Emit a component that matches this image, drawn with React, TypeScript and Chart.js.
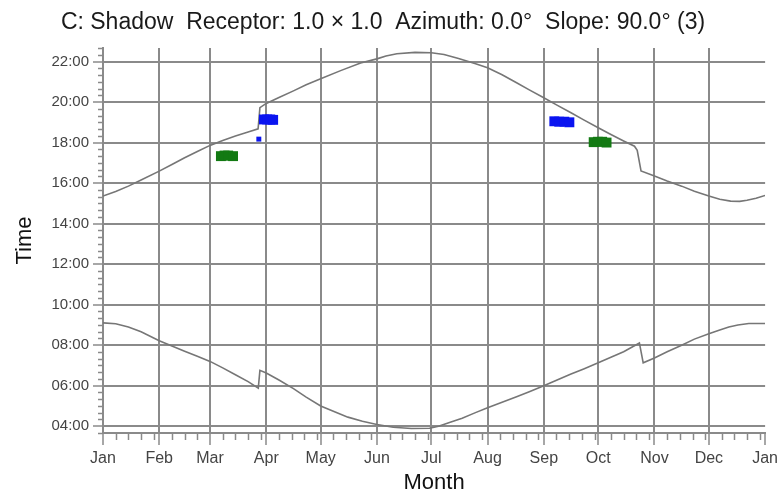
import React, { useEffect, useRef } from 'react';
import { Chart, registerables } from 'chart.js';

Chart.register(...registerables);

// ---------- data ----------
const monthTickDays = [0, 31, 59, 90, 120, 151, 181, 212, 243, 273, 304, 334, 365];
const monthTickLabels = ['Jan', 'Feb', 'Mar', 'Apr', 'May', 'Jun', 'Jul', 'Aug', 'Sep', 'Oct', 'Nov', 'Dec', 'Jan'];
const hourTickValues = [4, 6, 8, 10, 12, 14, 16, 18, 20, 22];
const hourTickLabels = ['04:00', '06:00', '08:00', '10:00', '12:00', '14:00', '16:00', '18:00', '20:00', '22:00'];

// sunset (upper curve), day of year -> hour
const sunsetDays = [0, 7, 14, 21, 31, 38, 45, 52, 59, 66, 73, 80, 85.5, 86.5, 90, 97, 105, 112, 120, 131, 142, 151, 156, 162, 172, 181, 188, 196, 205, 212, 220, 228, 235, 243, 250, 258, 265, 273, 280, 287, 293, 294.5, 296.6, 304, 311, 319, 326, 334, 340, 346, 351, 355, 360, 365];
const sunsetTimes = [15.36, 15.58, 15.85, 16.15, 16.59, 16.92, 17.25, 17.56, 17.86, 18.1, 18.32, 18.52, 18.68, 19.72, 19.93, 20.22, 20.55, 20.85, 21.15, 21.55, 21.93, 22.13, 22.27, 22.38, 22.45, 22.43, 22.35, 22.15, 21.9, 21.69, 21.35, 20.95, 20.6, 20.21, 19.86, 19.47, 19.12, 18.73, 18.4, 18.08, 17.82, 17.62, 16.6, 16.35, 16.1, 15.85, 15.6, 15.36, 15.2, 15.11, 15.1, 15.15, 15.25, 15.39];

// sunrise (lower curve)
const sunriseDays = [0, 7, 14, 21, 31, 38, 45, 52, 59, 66, 73, 80, 85.6, 86.5, 90, 97, 105, 112, 120, 128, 135, 143, 151, 160, 170, 180, 185, 191, 198, 205, 212, 220, 228, 235, 243, 250, 258, 265, 273, 280, 287, 295.7, 297.8, 304, 311, 319, 326, 334, 340, 345, 350, 356, 365];
const sunriseTimes = [9.1, 9.06, 8.9, 8.66, 8.22, 7.96, 7.7, 7.45, 7.2, 6.88, 6.54, 6.2, 5.88, 6.76, 6.63, 6.28, 5.86, 5.44, 5.0, 4.7, 4.45, 4.25, 4.09, 3.95, 3.89, 3.9, 4.0, 4.18, 4.4, 4.66, 4.91, 5.18, 5.45, 5.7, 6.0, 6.27, 6.58, 6.83, 7.13, 7.4, 7.68, 8.11, 7.13, 7.37, 7.68, 8.0, 8.3, 8.57, 8.75, 8.9, 9.0, 9.07, 9.07];

// shadow occurrences
const blueShadowDays = [88.7, 90.5, 92.2, 93.8, 248.8, 251.5, 254.3, 257.1];
const blueShadowTimes = [19.14, 19.14, 19.14, 19.12, 19.05, 19.03, 19.03, 19.0];
const blueSpotDays = [85.9];
const blueSpotTimes = [18.17];
const greenShadowDays = [65, 67, 69, 71.7, 270.5, 272.8, 275.2, 277.6];
const greenShadowTimes = [17.33, 17.36, 17.36, 17.33, 18.02, 18.04, 18.04, 18.0];

const toPoints = (xs: number[], ys: number[]) => xs.map((x, i) => ({ x, y: ys[i] }));

const GRID = '#8a8a8a';
const CURVE = '#767676';
const FONT = 'Liberation Sans, Arial, Helvetica, sans-serif';

const minorTicks = {
  id: 'minorTicks',
  afterDraw(chart: any) {
    const { ctx, chartArea, scales } = chart;
    const x = scales.x;
    const y = scales.y;
    ctx.save();
    ctx.strokeStyle = GRID;
    ctx.lineWidth = 1.5;
    ctx.beginPath();
    for (let i = 0; i < monthTickDays.length - 1; i++) {
      for (let d = monthTickDays[i] + 7; d < monthTickDays[i + 1] - 1; d += 7) {
        const px = Math.round(x.getPixelForValue(d)) + 0.5;
        ctx.moveTo(px, chartArea.bottom);
        ctx.lineTo(px, chartArea.bottom + 7);
      }
    }
    for (let k = 0; ; k++) {
      const h = y.min + k / 3;
      if (h > y.max + 1e-6) break;
      if (hourTickValues.some((v) => Math.abs(v - h) < 1e-3)) continue;
      const py = Math.round(y.getPixelForValue(h)) + 0.5;
      ctx.moveTo(chartArea.left - 5, py);
      ctx.lineTo(chartArea.left, py);
    }
    ctx.stroke();
    ctx.restore();
  },
};

export default function App() {
  const canvasRef = useRef<HTMLCanvasElement | null>(null);

  useEffect(() => {
    document.body.style.margin = '0';
    const canvas = canvasRef.current;
    if (!canvas) return;
    const chart = new Chart(canvas, {
      type: 'line',
      data: {
        datasets: [
          {
            type: 'scatter',
            data: toPoints(greenShadowDays, greenShadowTimes),
            backgroundColor: '#137a13',
            borderWidth: 0,
            pointStyle: 'rect',
            pointRadius: 7,
          },
          {
            type: 'scatter',
            data: toPoints(blueShadowDays, blueShadowTimes),
            backgroundColor: '#0a14f0',
            borderWidth: 0,
            pointStyle: 'rect',
            pointRadius: 7,
          },
          {
            type: 'scatter',
            data: toPoints(blueSpotDays, blueSpotTimes),
            backgroundColor: '#0a14f0',
            borderWidth: 0,
            pointStyle: 'rect',
            pointRadius: 3.5,
          },
          {
            type: 'line',
            data: toPoints(sunsetDays, sunsetTimes),
            borderColor: CURVE,
            borderWidth: 1.6,
            pointRadius: 0,
            tension: 0,
            fill: false,
          },
          {
            type: 'line',
            data: toPoints(sunriseDays, sunriseTimes),
            borderColor: CURVE,
            borderWidth: 1.6,
            pointRadius: 0,
            tension: 0,
            fill: false,
          },
        ],
      } as any,
      options: {
        animation: false,
        responsive: false,
        devicePixelRatio: 1,
        layout: { padding: { left: 0, right: 16, top: 0, bottom: 0 } },
        plugins: {
          legend: { display: false },
          tooltip: { enabled: false },
          title: {
            display: true,
            text: 'C: Shadow  Receptor: 1.0 × 1.0  Azimuth: 0.0°  Slope: 90.0° (3)',
            color: '#1a1a1a',
            font: { family: FONT, size: 23, weight: 'normal' },
            padding: { top: 9.2, bottom: 11.2 },
          },
        },
        scales: {
          x: {
            type: 'linear',
            min: 0,
            max: 365,
            afterBuildTicks: (s: any) => {
              s.ticks = monthTickDays.map((v) => ({ value: v }));
            },
            afterFit: (s: any) => {
              s.height = 65;
            },
            grid: {
              color: (c: any) => (c.tick && c.tick.value === 365 ? 'rgba(0,0,0,0)' : GRID),
              lineWidth: 2,
              tickLength: 12,
              tickColor: GRID,
              tickWidth: 1.5,
            },
            border: { display: true, color: GRID, width: 2 },
            ticks: {
              autoSkip: false,
              maxRotation: 0,
              padding: 4,
              color: '#444444',
              font: { family: FONT, size: 16 },
              callback: (v: any) => monthTickLabels[monthTickDays.indexOf(Number(v))] ?? '',
            },
            title: {
              display: true,
              text: 'Month',
              color: '#111111',
              font: { family: FONT, size: 22 },
              padding: { top: 0, bottom: 2 },
            },
          },
          y: {
            type: 'linear',
            min: 3 + 2 / 3,
            max: 22 + 2 / 3,
            afterBuildTicks: (s: any) => {
              s.ticks = hourTickValues.map((v) => ({ value: v }));
            },
            afterFit: (s: any) => {
              s.width = 103;
            },
            grid: {
              color: GRID,
              lineWidth: 2,
              tickLength: 10,
              tickColor: GRID,
              tickWidth: 1.5,
            },
            border: { display: true, color: GRID, width: 2 },
            ticks: {
              autoSkip: false,
              padding: 4,
              color: '#444444',
              font: { family: FONT, size: 15 },
              callback: (v: any) => hourTickLabels[hourTickValues.indexOf(Number(v))] ?? '',
            },
            title: {
              display: true,
              text: 'Time',
              color: '#111111',
              font: { family: FONT, size: 22 },
              padding: { top: 12, bottom: 0 },
            },
          },
        },
      } as any,
      plugins: [minorTicks],
    });
    return () => chart.destroy();
  }, []);

  return (
    <div style={{ width: 782, height: 498, position: 'relative' }}>
      <canvas ref={canvasRef} width={782} height={498} style={{ display: 'block' }} />
    </div>
  );
}
